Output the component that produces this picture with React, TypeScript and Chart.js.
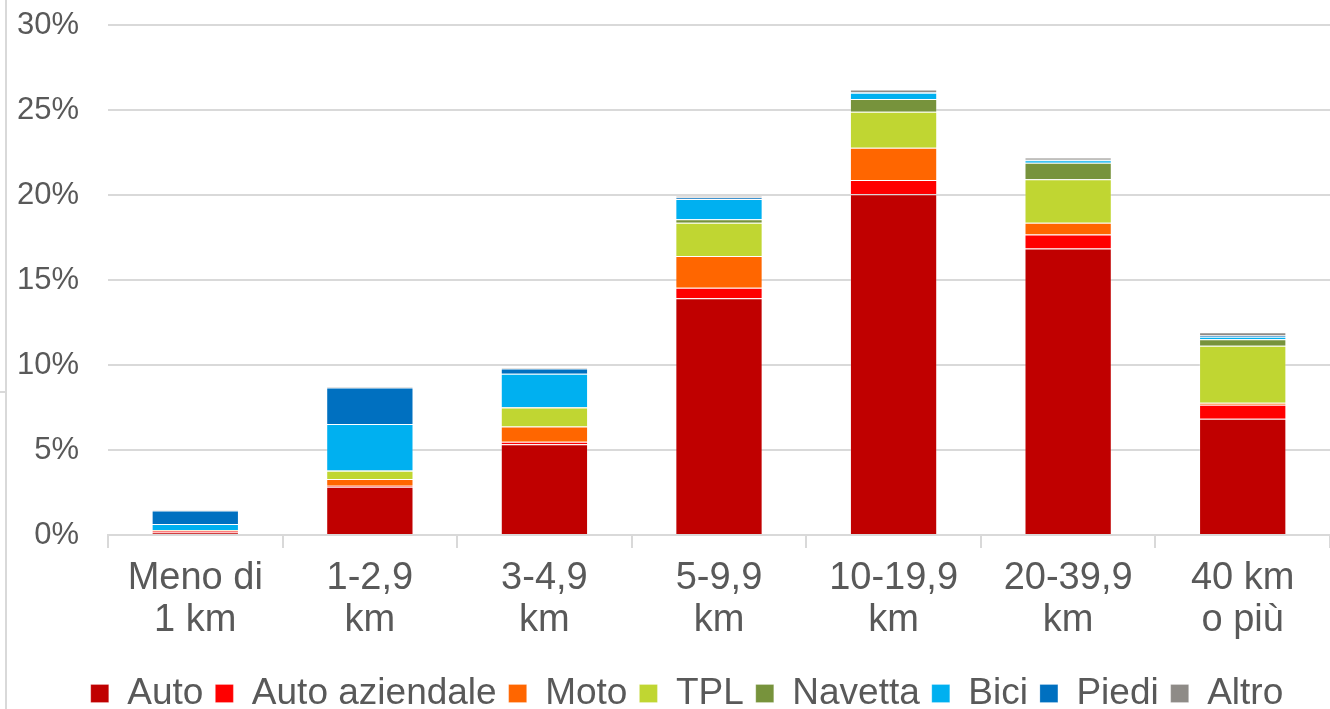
import React, { useEffect, useRef } from "react";
import { Chart, registerables } from "chart.js";

Chart.register(...registerables);

const categories: string[][] = [
  ["Meno di", "1 km"],
  ["1-2,9", "km"],
  ["3-4,9", "km"],
  ["5-9,9", "km"],
  ["10-19,9", "km"],
  ["20-39,9", "km"],
  ["40 km", "o più"],
];

const seriesNames = ["Auto", "Auto aziendale", "Moto", "TPL", "Navetta", "Bici", "Piedi", "Altro"];
const seriesColors = ["#C00000", "#FF0000", "#FF6600", "#C0D632", "#77933C", "#00B0F0", "#0070C0", "#8E8B87"];

const auto = [0.15, 2.84, 5.34, 13.92, 20.04, 16.86, 6.84];
const autoAziendale = [0.1, 0.05, 0.14, 0.63, 0.84, 0.82, 0.82];
const moto = [0.02, 0.4, 0.9, 1.86, 1.9, 0.69, 0.12];
const tpl = [0.02, 0.49, 1.12, 1.96, 2.12, 2.55, 3.35];
const navetta = [0.0, 0.02, 0.03, 0.2, 0.75, 0.98, 0.39];
const bici = [0.35, 2.73, 1.96, 1.2, 0.37, 0.14, 0.14];
const piedi = [0.8, 2.15, 0.31, 0.08, 0.03, 0.04, 0.08];
const altro = [0.03, 0.06, 0.04, 0.1, 0.16, 0.12, 0.18];

const seriesValues = [auto, autoAziendale, moto, tpl, navetta, bici, piedi, altro];

const yTicks = [0, 5, 10, 15, 20, 25, 30];

const FONT = "'Liberation Sans', Arial, sans-serif";
const TEXT = "#595959";
const GRID = "#D9D9D9";

const legendShift = {
  id: "legendShift",
  afterLayout(c: any) {
    const l = c.legend;
    if (l) {
      l.left += 22;
      l.right += 22;
    }
  },
};

export default function App() {
  const ref = useRef<HTMLCanvasElement>(null);

  useEffect(() => {
    if (!ref.current) return;
    Chart.defaults.font.family = FONT;
    Chart.defaults.color = TEXT;
    const chart = new Chart(ref.current, {
      type: "bar",
      data: {
        labels: categories,
        datasets: seriesNames.map((name, i) => ({
          label: name,
          data: seriesValues[i],
          backgroundColor: seriesColors[i],
          borderColor: "rgba(255,255,255,0.22)",
          borderWidth: 1,
          categoryPercentage: 1,
          barPercentage: 0.5,
        })),
      },
      plugins: [legendShift],
      options: {
        animation: false,
        responsive: false,
        maintainAspectRatio: false,
        layout: { padding: { top: 25, left: 0, right: 0, bottom: 0 } },
        plugins: {
          tooltip: { enabled: false },
          legend: {
            position: "bottom",
            maxHeight: 46,
            labels: {
              boxWidth: 18,
              boxHeight: 18,
              padding: 12,
              color: TEXT,
              font: { size: 37, family: FONT },
            },
          },
        },
        scales: {
          x: {
            stacked: true,
            afterFit: (s: any) => {
              s.height = 128;
            },
            grid: {
              offset: true,
              drawOnChartArea: false,
              drawTicks: true,
              tickLength: 13,
              color: GRID,
              lineWidth: 2,
            },
            border: { display: true, color: GRID, width: 2 },
            ticks: {
              padding: 10,
              color: TEXT,
              maxRotation: 0,
              autoSkip: false,
              font: { size: 38, family: FONT, lineHeight: 1.1 },
            },
          },
          y: {
            stacked: true,
            min: 0,
            max: 30,
            afterFit: (s: any) => {
              s.width = 108;
              s.paddingTop = 0;
              s.paddingBottom = 0;
            },
            afterBuildTicks: (s: any) => {
              s.ticks = yTicks.map((v) => ({ value: v }));
            },
            grid: { color: GRID, lineWidth: 2, drawTicks: false },
            border: { display: false },
            ticks: {
              padding: 29,
              color: TEXT,
              font: { size: 31, family: FONT },
              callback: (v: any) => v + "%",
            },
          },
        },
      },
    });
    return () => chart.destroy();
  }, []);

  return (
    <div style={{ position: "fixed", left: 0, top: 0, width: 1330, height: 709, background: "#fff" }}>
      <div style={{ position: "absolute", left: 5, top: 0, width: 2, height: 709, background: GRID }} />
      <div style={{ position: "absolute", left: 0, top: 391, width: 6, height: 2, background: GRID }} />
      <canvas ref={ref} width={1330} height={709} style={{ position: "absolute", left: 0, top: 0 }} />
    </div>
  );
}
